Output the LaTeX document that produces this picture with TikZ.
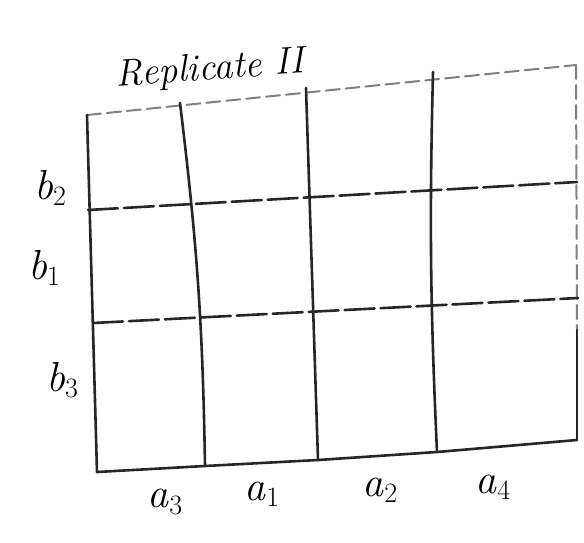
\documentclass[tikz,border=0pt]{standalone}
\usepackage{fontspec}
\usepackage{tikz}
\newcommand{\lsub}[2]{\textit{#1}\raisebox{-0.35ex}{\fontsize{28}{30}\selectfont #2}}
\begin{document}
\begin{tikzpicture}[x=1pt,y=-1pt,
  gridline/.style={line width=2.6pt,black!85,line cap=round},
  faint/.style={line width=2pt,black!50,dash pattern=on 14pt off 6pt,line cap=round},
  lab/.style={font=\fontsize{42}{44}\selectfont,inner sep=0pt},
  ttl/.style={font=\fontsize{38}{40}\selectfont,inner sep=0pt}]
\useasboundingbox (0,0) rectangle (584,542);
% vertical lines: top and bottom ends
\coordinate (T0) at (87,115);  \coordinate (B0) at (97,472);
\coordinate (T1) at (180,103); \coordinate (B1) at (205,466);
\coordinate (T2) at (306,88);  \coordinate (B2) at (318,460);
\coordinate (T3) at (433,72);  \coordinate (B3) at (437,452);
\coordinate (T4) at (576,65);  \coordinate (B4) at (577,440);
\coordinate (M4) at (577,330);
% horizontal lines: left and right ends
\coordinate (L1) at (88,210);  \coordinate (R1) at (577,182);
\coordinate (L2) at (93,323);  \coordinate (R2) at (578,298);
% drawing
\draw[faint] (T0) -- (T4);
\draw[faint] (T4) -- (M4);
\draw[gridline] (M4) -- (B4);
\draw[gridline] (T0) -- (B0);
\draw[gridline] (T1) to[bend left=3] (B1);
\draw[gridline] (T2) -- (B2);
\draw[gridline] (T3) to[bend right=2] (B3);
\draw[gridline] (B0) -- (B1) -- (B2) -- (B3) -- (B4);
\draw[gridline,dash pattern=on 30pt off 6pt] (L1) -- (R1);
\draw[gridline,dash pattern=on 30pt off 6pt] (L2) -- (R2);
% labels
\node[ttl,rotate=4] (title) at (210,70) {\itshape Replicate II};
\node[lab] (lb2) at (50,188) {\lsub{b}{2}};
\node[lab] (lb1) at (44,268) {\lsub{b}{1}};
\node[lab] (lb3) at (62,380) {\lsub{b}{3}};
\node[lab] (la3) at (165,502) {\lsub{a}{3}};
\node[lab] (la1) at (262,494) {\lsub{a}{1}};
\node[lab] (la2) at (380,490) {\lsub{a}{2}};
\node[lab] (la4) at (493,487) {\lsub{a}{4}};
\end{tikzpicture}
\end{document}
